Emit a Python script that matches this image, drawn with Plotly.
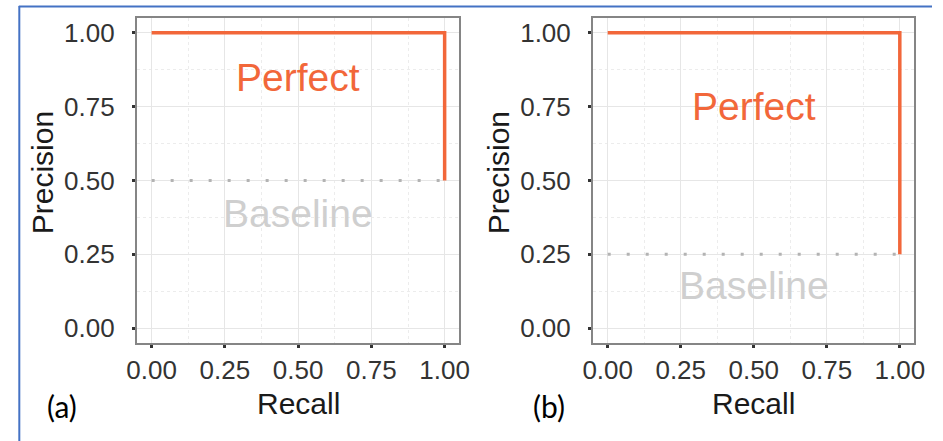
import plotly.graph_objects as go

# Precision-recall reference curves for two class balances
panels = ["(a)", "(b)"]
baselines = [0.50, 0.25]            # precision of a random classifier
perfect_recall = [0.0, 1.0, 1.0]
perfect_label_y = [0.85, 0.75]      # where the "Perfect" caption sits
baseline_label_y = [0.39, 0.145]    # where the "Baseline" caption sits
tick_vals = [0.0, 0.25, 0.5, 0.75, 1.0]
tick_text = ["0.00", "0.25", "0.50", "0.75", "1.00"]

W, H = 943, 441
ORANGE = "#F2673A"
BASE_GREY = "#b3b3b3"
LABEL_GREY = "#cfcfcf"
FONT = "Liberation Sans, Arial, sans-serif"

# pixel boxes of each plotting panel: (left, right, top, bottom)
boxes = [(129, 459, 18, 343), (596, 925, 18, 343)]
letter_left = [35, 532]

fig = go.Figure()
annotations = []

for i, (name, base) in enumerate(zip(panels, baselines)):
    xa = "x" if i == 0 else f"x{i + 1}"
    ya = "y" if i == 0 else f"y{i + 1}"
    l, r, t, b = boxes[i]

    # baseline (dotted)
    fig.add_trace(go.Scatter(
        x=[0.0, 1.0], y=[base, base], xaxis=xa, yaxis=ya, mode="lines",
        line=dict(color=BASE_GREY, width=3, dash="3px,16px"),
        showlegend=False, hoverinfo="skip"))
    # perfect classifier
    fig.add_trace(go.Scatter(
        x=perfect_recall, y=[1.0, 1.0, base], xaxis=xa, yaxis=ya, mode="lines",
        line=dict(color=ORANGE, width=3.5, shape="linear"),
        showlegend=False, hoverinfo="skip"))

    axis_common = dict(
        range=[-0.05, 1.05], tickvals=tick_vals, ticktext=tick_text,
        ticks="outside", ticklen=3, tickwidth=3, tickcolor="#333333",
        tickfont=dict(family=FONT, size=26, color="#333333"),
        showgrid=True, gridcolor="#e6e6e6", gridwidth=1.2,
        minor=dict(tickvals=[0.125, 0.375, 0.625, 0.875], showgrid=True,
                   gridcolor="#ececec", griddash="dot", gridwidth=1, ticks=""),
        zeroline=False, showline=True, linecolor="#858585", linewidth=2.2,
        mirror=True, fixedrange=True,
    )
    xkey = "xaxis" if i == 0 else f"xaxis{i + 1}"
    ykey = "yaxis" if i == 0 else f"yaxis{i + 1}"
    fig.update_layout(**{
        xkey: dict(axis_common, domain=[l / W, r / W], anchor=ya,
                   ticklabelstandoff=0),
        ykey: dict(axis_common, domain=[1 - b / H, 1 - t / H], anchor=xa,
                   ticklabelstandoff=12),
    })

    cx = (l + r) / 2
    # axis titles
    annotations.append(dict(text="Recall", xref="paper", yref="paper",
                            x=cx / W, y=1 - 403 / H, showarrow=False,
                            font=dict(family=FONT, size=30, color="#1a1a1a"),
                            xanchor="center", yanchor="middle"))
    annotations.append(dict(text="Precision", xref="paper", yref="paper",
                            x=(l - 97) / W, y=1 - 173 / H, showarrow=False,
                            textangle=-90,
                            font=dict(family=FONT, size=30, color="#1a1a1a"),
                            xanchor="center", yanchor="middle"))
    # in-plot captions
    annotations.append(dict(text="Perfect", xref=xa, yref=ya, x=0.5,
                            y=perfect_label_y[i], showarrow=False,
                            font=dict(family=FONT, size=39, color=ORANGE),
                            xanchor="center", yanchor="middle"))
    annotations.append(dict(text="Baseline", xref=xa, yref=ya, x=0.5,
                            y=baseline_label_y[i], showarrow=False,
                            font=dict(family=FONT, size=39, color=LABEL_GREY),
                            xanchor="center", yanchor="middle"))
    # panel letter
    annotations.append(dict(text=name, xref="paper", yref="paper",
                            x=letter_left[i] / W, y=1 - 406 / H,
                            showarrow=False,
                            font=dict(family="Lato, Open Sans, sans-serif",
                                      size=30, color="#000000"),
                            xanchor="left", yanchor="middle"))

# frame lines along the top and left edges
shapes = [
    dict(type="line", xref="paper", yref="paper", x0=8 / W, x1=1, y0=1 - 6.5 / H,
         y1=1 - 6.5 / H, line=dict(color="#4472C4", width=2)),
    dict(type="line", xref="paper", yref="paper", x0=8.5 / W, x1=8.5 / W, y0=0,
         y1=1 - 6 / H, line=dict(color="#4472C4", width=2)),
]

fig.update_layout(
    width=W, height=H, margin=dict(l=0, r=0, t=0, b=0),
    paper_bgcolor="white", plot_bgcolor="white",
    annotations=annotations, shapes=shapes, showlegend=False,
)

fig.write_html("out.html", config={"displayModeBar": False})
